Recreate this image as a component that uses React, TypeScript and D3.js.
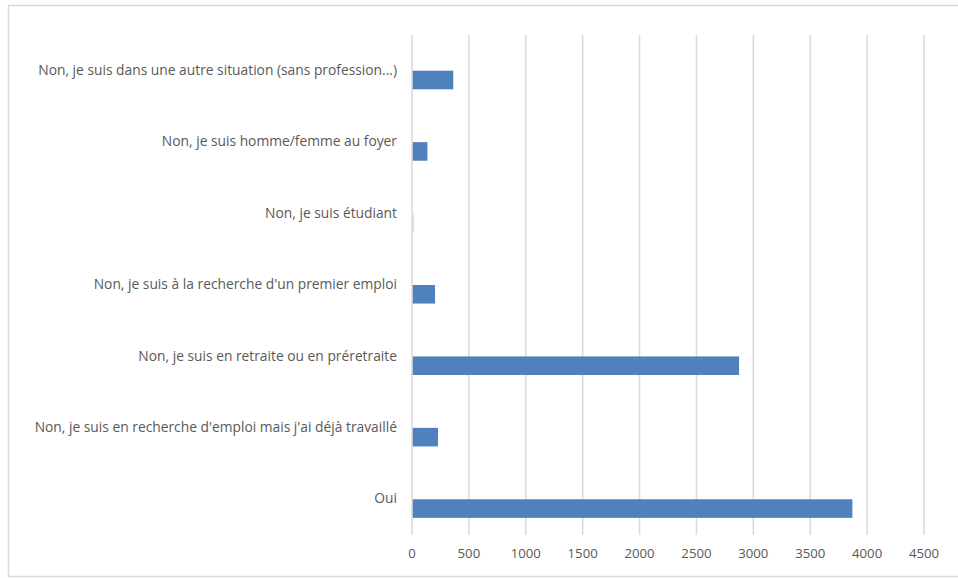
import { useEffect, useRef } from "react";
import * as d3 from "d3";

const categories = [
  "Non, je suis dans une autre situation (sans profession...)",
  "Non, je suis homme/femme au foyer",
  "Non, je suis étudiant",
  "Non, je suis à la recherche d'un premier emploi",
  "Non, je suis en retraite ou en préretraite",
  "Non, je suis en recherche d'emploi mais j'ai déjà travaillé",
  "Oui",
];
const values = [356, 129, 8, 196, 2868, 222, 3864];
const xTicks = [0, 500, 1000, 1500, 2000, 2500, 3000, 3500, 4000, 4500];

const W = 958;
const H = 578;
const margin = { top: 35, right: 34, bottom: 43, left: 412 };

export default function App() {
  const svgRef = useRef<SVGSVGElement>(null);

  useEffect(() => {
    if (!svgRef.current) return;
    const svg = d3.select(svgRef.current);
    svg.selectAll("*").remove();

    const width = W - margin.left - margin.right;
    const height = H - margin.top - margin.bottom;
    const font = "'Open Sans', sans-serif";

    // chart frame
    svg
      .append("rect")
      .attr("x", 8.5)
      .attr("y", 5.5)
      .attr("width", 980)
      .attr("height", 571)
      .attr("fill", "white")
      .attr("stroke", "#d9d9d9")
      .attr("stroke-width", 1.5);

    const g = svg
      .append("g")
      .attr("transform", `translate(${margin.left},${margin.top})`);

    const x = d3.scaleLinear().domain([0, 4500]).range([0, width]);
    const y = d3
      .scaleBand()
      .domain(categories)
      .range([0, height])
      .paddingInner(0.48)
      .paddingOuter(0.24);

    // gridlines
    g.selectAll(".grid")
      .data(xTicks)
      .join("line")
      .attr("x1", (d) => x(d))
      .attr("x2", (d) => x(d))
      .attr("y1", 0)
      .attr("y2", height)
      .attr("stroke", "#d9d9d9")
      .attr("stroke-width", 1.5);

    // bars (second series slot of a two-series cluster)
    g.selectAll(".bar")
      .data(categories)
      .join("rect")
      .attr("x", x(0) + 0.75)
      .attr("y", (d) => (y(d) || 0) + y.bandwidth() / 2)
      .attr("width", (d, i) => Math.max(1, x(values[i]) - x(0)))
      .attr("height", y.bandwidth() / 2)
      .attr("fill", (d, i) => (values[i] < 20 ? "#c9d6e8" : "#4f81bd"));

    // category labels
    g.selectAll(".cat")
      .data(categories)
      .join("text")
      .attr("x", -15)
      .attr("y", (d) => (y(d) || 0) + y.bandwidth() / 2)
      .attr("dy", "0.3em")
      .attr("text-anchor", "end")
      .attr("font-family", font)
      .attr("font-size", 13.8)
      .attr("fill", "#595959")
      .text((d) => d);

    // x tick labels
    g.selectAll(".tick")
      .data(xTicks)
      .join("text")
      .attr("x", (d) => x(d))
      .attr("y", height + 23)
      .attr("text-anchor", "middle")
      .attr("font-family", font)
      .attr("font-size", 13.2)
      .attr("fill", "#595959")
      .text((d) => String(d));
  }, []);

  return (
    <div style={{ position: "absolute", left: 0, top: 0 }}>
      <svg ref={svgRef} width={W} height={H}></svg>
    </div>
  );
}
